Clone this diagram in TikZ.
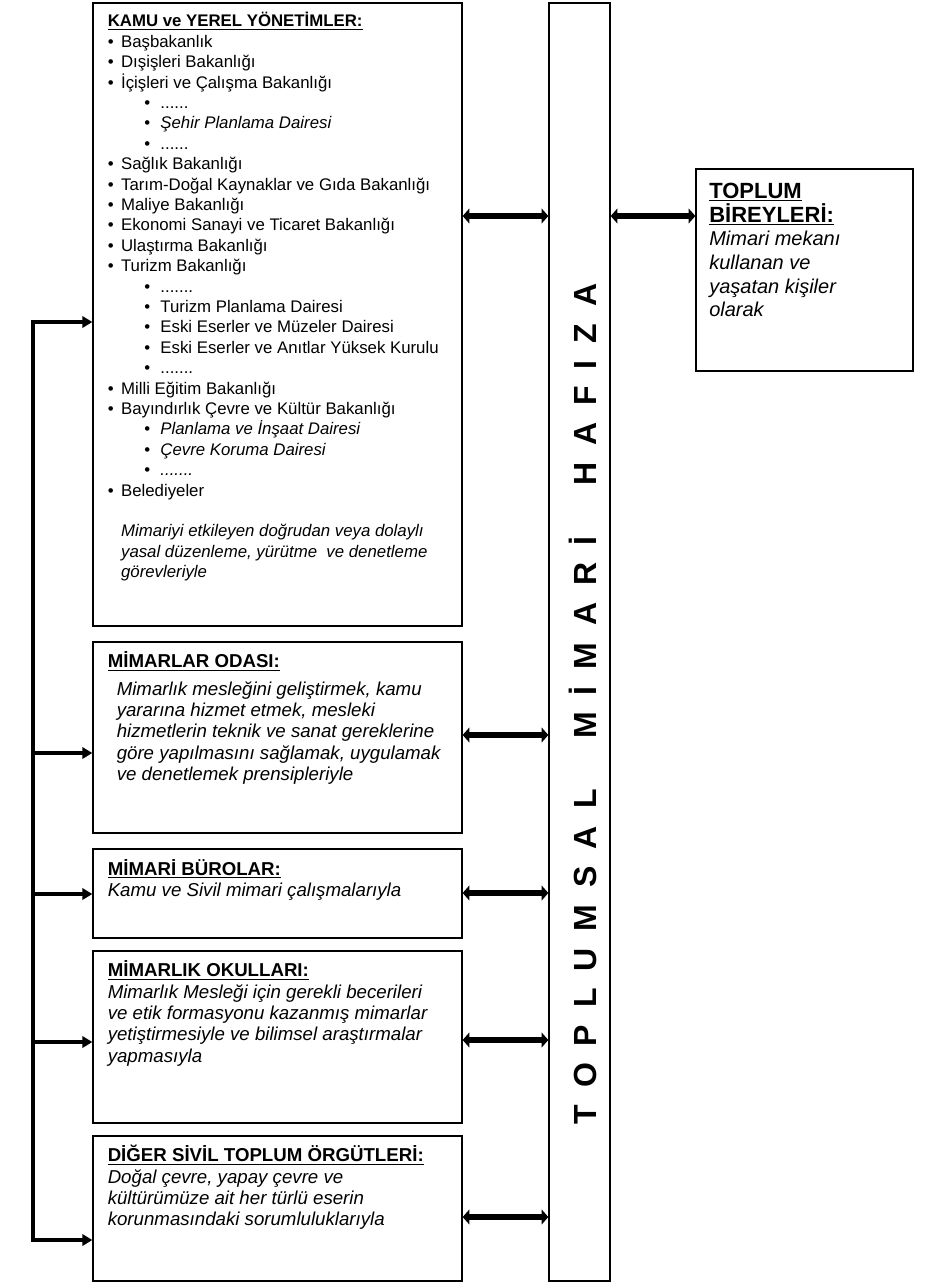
\documentclass[tikz,border=0pt]{standalone}
\usepackage{fontspec}
\setmainfont{Liberation Sans}
\usetikzlibrary{arrows.meta,fit}

\newcommand{\fs}{\rule{0pt}{15pt}}% first-line strut
\newcommand{\ttl}[1]{\underline{\textbf{#1}}}
\newcommand{\blt}[1]{\makebox[10pt][l]{•}#1}
\newcommand{\sblt}[1]{\hspace*{27.5pt}\makebox[12pt][l]{•}#1}
\newcommand{\lgap}{\hspace{12.75pt}}
\newcommand{\wgap}{\hspace{38pt}}

\begin{document}
\begin{tikzpicture}[x=0.75pt, y=-0.75pt,
	box/.style={draw, line width=1pt, inner sep=0pt},
	txt/.style={anchor=north west, inner sep=0pt, align=left},
	dbl/.style={{Triangle[length=5pt,width=11pt]}-{Triangle[length=5pt,width=11pt]}, line width=4.2pt},
	feed/.style={-{Triangle[length=7.5pt,width=8.5pt]}, line width=2.8pt}]

	\def \TxtX {107.5}
	\def \BodyFont {\fontsize{14pt}{16pt}\selectfont}

	\useasboundingbox (0,0) rectangle (934,1283);

	% boxes
	\node[box, fit={(93,3) (462,626)}] (Kamu) {};
	\node[box, fit={(93,642) (462,833)}] (Oda) {};
	\node[box, fit={(93,849) (462,938)}] (Buro) {};
	\node[box, fit={(93,951) (462,1123)}] (Okul) {};
	\node[box, fit={(93,1136) (462,1281)}] (Stk) {};
	\node[box, fit={(549,3) (610,1281)}] (Hafiza) {};
	\node[box, fit={(696,169) (913,371)}] (Birey) {};

	% texts
	\node[txt, font=\fontsize{12.6pt}{15.3pt}\selectfont] (KamuTxt) at (\TxtX,6.7) {\fs\ttl{KAMU ve YEREL YÖNETİMLER:}\\
		\blt{Başbakanlık}\\
		\blt{Dışişleri Bakanlığı}\\
		\blt{İçişleri ve Çalışma Bakanlığı}\\
		\sblt{......}\\
		\sblt{\textit{Şehir Planlama Dairesi}}\\
		\sblt{......}\\
		\blt{Sağlık Bakanlığı}\\
		\blt{Tarım-Doğal Kaynaklar ve Gıda Bakanlığı}\\
		\blt{Maliye Bakanlığı}\\
		\blt{Ekonomi Sanayi ve Ticaret Bakanlığı}\\
		\blt{Ulaştırma Bakanlığı}\\
		\blt{Turizm Bakanlığı}\\
		\sblt{.......}\\
		\sblt{Turizm Planlama Dairesi}\\
		\sblt{Eski Eserler ve Müzeler Dairesi}\\
		\sblt{Eski Eserler ve Anıtlar Yüksek Kurulu}\\
		\sblt{.......}\\
		\blt{Milli Eğitim Bakanlığı}\\
		\blt{Bayındırlık Çevre ve Kültür Bakanlığı}\\
		\sblt{\textit{Planlama ve İnşaat Dairesi}}\\
		\sblt{\textit{Çevre Koruma Dairesi}}\\
		\sblt{\textit{.......}}\\
		\blt{Belediyeler}\\[15.3pt]
		\hspace*{10pt}\textit{Mimariyi etkileyen doğrudan veya dolaylı}\\
		\hspace*{10pt}\textit{yasal düzenleme, yürütme \ ve denetleme}\\
		\hspace*{10pt}\textit{görevleriyle}};

	\node[txt, font=\BodyFont] (OdaTxt) at (\TxtX,647.5) {\fs\ttl{MİMARLAR ODASI:}\\[4.5pt]
		\hspace*{6.75pt}\textit{Mimarlık mesleğini geliştirmek, kamu}\\
		\hspace*{6.75pt}\textit{yararına hizmet etmek, mesleki}\\
		\hspace*{6.75pt}\textit{hizmetlerin teknik ve sanat gereklerine}\\
		\hspace*{6.75pt}\textit{göre yapılmasını sağlamak, uygulamak}\\
		\hspace*{6.75pt}\textit{ve denetlemek prensipleriyle}};

	\node[txt, font=\BodyFont] (BuroTxt) at (\TxtX,855) {\fs\ttl{MİMARİ BÜROLAR:}\\
		\textit{Kamu ve Sivil mimari çalışmalarıyla}};

	\node[txt, font=\BodyFont] (OkulTxt) at (\TxtX,956.7) {\fs\ttl{MİMARLIK OKULLARI:}\\
		\textit{Mimarlık Mesleği için gerekli becerileri}\\
		\textit{ve etik formasyonu kazanmış mimarlar}\\
		\textit{yetiştirmesiyle ve bilimsel araştırmalar}\\
		\textit{yapmasıyla}};

	\node[txt, font=\BodyFont] (StkTxt) at (\TxtX,1141.7) {\fs\ttl{DİĞER SİVİL TOPLUM ÖRGÜTLERİ:}\\
		\textit{Doğal çevre, yapay çevre ve}\\
		\textit{kültürümüze ait her türlü eserin}\\
		\textit{korunmasındaki sorumluluklarıyla}};

	\node[txt, font=\fontsize{15pt}{17.8pt}\selectfont] (BireyTxt) at (709,178) {\fs{\fontsize{16.5pt}{17.8pt}\selectfont\ttl{TOPLUM}}\\
		{\fontsize{16.5pt}{17.8pt}\selectfont\ttl{BİREYLERİ:}}\\
		\textit{Mimari mekanı}\\
		\textit{kullanan ve}\\
		\textit{yaşatan kişiler}\\
		\textit{olarak}};

	\node[rotate=90, anchor=base, inner sep=0pt, font=\fontsize{24pt}{24pt}\bfseries] (HafizaTxt) at (596,704)
		{T\lgap O\lgap P\lgap L\lgap U\lgap M\lgap S\lgap A\lgap L\wgap M\lgap İ\lgap M\lgap A\lgap R\lgap İ\wgap H\lgap A\lgap F\lgap I\lgap Z\lgap A};

	% two-way links to the memory bar
	\coordinate (R1) at (0,216);
	\coordinate (R2) at (0,735);
	\coordinate (R3) at (0,893);
	\coordinate (R4) at (0,1040);
	\coordinate (R5) at (0,1217);
	\draw[dbl] (Kamu.east |- R1) -- (Hafiza.west |- R1);
	\draw[dbl] (Oda.east |- R2) -- (Hafiza.west |- R2);
	\draw[dbl] (Buro.east |- R3) -- (Hafiza.west |- R3);
	\draw[dbl] (Okul.east |- R4) -- (Hafiza.west |- R4);
	\draw[dbl] (Stk.east |- R5) -- (Hafiza.west |- R5);
	\draw[dbl] (Hafiza.east |- R1) -- (Birey.west |- R1);

	% left feed line
	\coordinate (SpineTop) at (33,322);
	\coordinate (SpineBot) at (33,1240);
	\coordinate (L2) at (33,753);
	\coordinate (L3) at (33,894);
	\coordinate (L4) at (33,1042);
	\draw[line width=2.8pt, line cap=rect] (SpineTop) -- (SpineBot);
	\draw[feed] (SpineTop) -- (Kamu.west |- SpineTop);
	\draw[feed] (L2) -- (Oda.west |- L2);
	\draw[feed] (L3) -- (Buro.west |- L3);
	\draw[feed] (L4) -- (Okul.west |- L4);
	\draw[feed] (SpineBot) -- (Stk.west |- SpineBot);

\end{tikzpicture}
\end{document}
